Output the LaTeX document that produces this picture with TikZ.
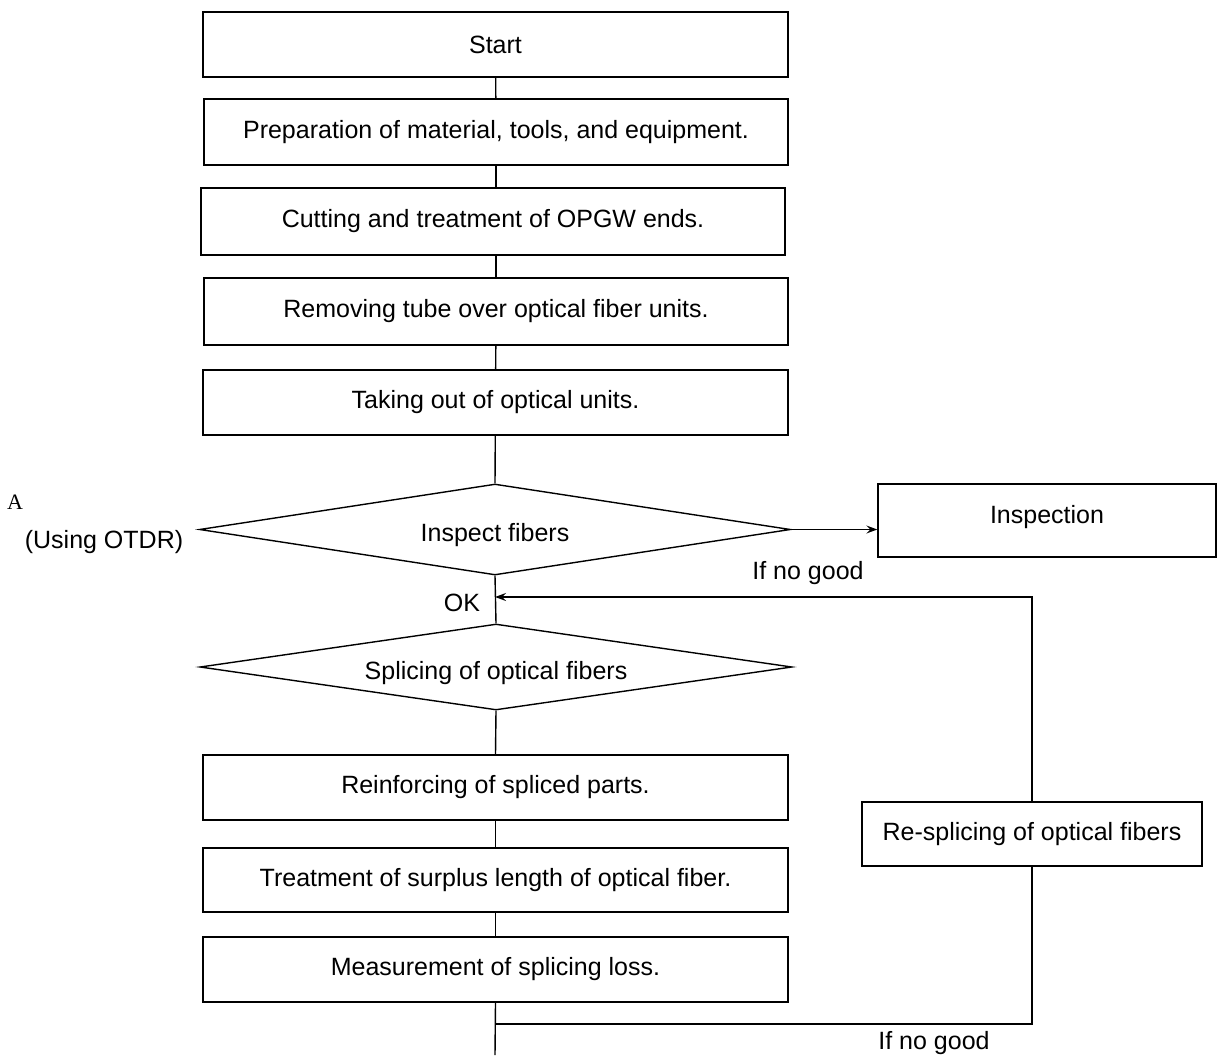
\documentclass[tikz,border=0pt]{standalone}
\usepackage{fontspec}
\setmainfont{Liberation Sans}
\newfontfamily\serifA{Liberation Serif}
\usetikzlibrary{shapes.geometric,arrows.meta}

\tikzset{
  box/.style={draw, rectangle, inner sep=0pt, minimum width=585pt, minimum height=65pt},
  decide/.style={draw, diamond, aspect=6.5, inner sep=0pt, minimum width=591pt},
  txt/.style={inner sep=0pt},
  arr/.style={-{Stealth[length=11pt,width=8pt,inset=4pt]}}
}

\begin{document}
\begin{tikzpicture}[x=1pt, y=-1pt, line width=1.4pt, font=\fontsize{25}{30}\selectfont]
      \useasboundingbox (0,0) rectangle (1218,1055);

      % main column
      \node[box] (start) at (495.5,44.5) {Start};
      \node[box, minimum width=584pt, minimum height=66pt] (prep) at (496,132) {Preparation of material, tools, and equipment.};
      \node[box, minimum width=584pt, minimum height=67pt] (cut) at (493,221.5) {Cutting and treatment of OPGW ends.};
      \node[box, minimum width=584pt, minimum height=67pt] (tube) at (496,311.5) {Removing tube over optical fiber units.};
      \node[box] (units) at (495.5,402.5) {Taking out of optical units.};

      \node[decide, minimum height=91pt] (insp) at (495,529.5) {};
      \node[txt] (insptxt) at (495,535) {Inspect fibers};
      \node[box, minimum width=338pt, minimum height=73pt] (inspbox) at (1047,520.5) {};
      \node[txt] (inspboxtxt) at (1047,517) {Inspection};

      \node[decide, minimum height=86pt, minimum width=592pt] (splice) at (496,667) {};
      \node[txt] (splicetxt) at (496,673) {Splicing of optical fibers};

      \node[box] (reinf) at (495.5,787.5) {Reinforcing of spliced parts.};
      \node[box, minimum height=64pt] (surplus) at (495.5,880) {Treatment of surplus length of optical fiber.};
      \node[box] (loss) at (495.5,969.5) {Measurement of splicing loss.};
      \node[box, minimum width=340pt, minimum height=64pt] (resplice) at (1032,834) {Re-splicing of optical fibers};

      % labels
      \node[txt, font=\serifA\fontsize{22}{26}\selectfont] (a) at (15,502) {A};
      \node[txt] (otdr) at (104,542) {(Using OTDR)};
      \node[txt] (ng1) at (808,573) {If no good};
      \node[txt] (ok) at (462,603) {OK};
      \node[txt] (ng2) at (934,1043) {If no good};

      \coordinate (okjoin) at (495,597);
      \coordinate (j1) at (495,1024);
      \coordinate (bot) at (495,1055);

      % connectors
      \draw (start) -- (prep);
      \draw (prep) -- (cut.north -| prep.south);
      \draw (cut.south -| tube.north) -- (tube);
      \draw (tube) -- (units);
      \draw (units) -- (insp.north);
      \draw[arr] (insp.east) -- (inspbox.west |- insp.east);
      \draw (insp.south) -- (splice.north);
      \draw (splice.south) -- (reinf.north);
      \draw (reinf) -- (surplus);
      \draw (surplus) -- (loss);
      \draw (loss.south) -- (bot);
      \draw (j1) -| (resplice.south);
      \draw[arr] (resplice.north) |- (okjoin);
\end{tikzpicture}
\end{document}
